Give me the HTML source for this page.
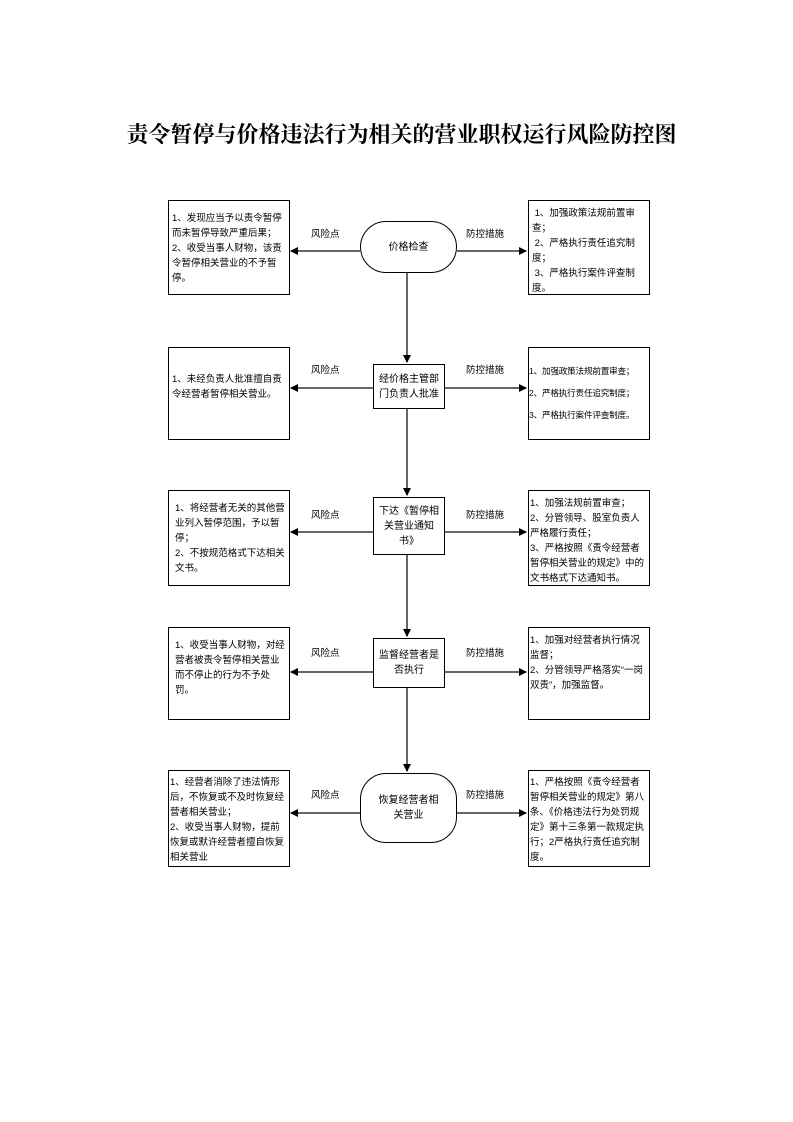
<!DOCTYPE html>
<html><head><meta charset="utf-8"><style>
body{margin:0;width:793px;height:1122px;background:#fff;position:relative;font-family:"Liberation Sans","Noto Sans CJK SC",sans-serif;overflow:hidden}
.t{position:absolute;left:0;width:793px;top:118px;text-align:center;font:bold 22px "Liberation Serif","Noto Serif CJK SC",serif;color:#000;padding-left:10px;box-sizing:border-box}
.b{position:absolute;border:1px solid #000;box-sizing:border-box;font-size:9.5px;line-height:15px;padding:10px 2px 0 3px;color:#000;background:#fff}
.L{left:168px;width:122px}.R{left:528px;width:122px}
.p{position:absolute;border:1px solid #000;box-sizing:border-box;font-size:10px;line-height:15px;text-align:center;display:flex;align-items:center;justify-content:center;background:#fff;left:373px;width:72px}
.term{border-radius:26px;left:360px;width:97px}
.lab{position:absolute;font-size:9.5px}
</style></head><body>
<div class="t">责令暂停与价格违法行为相关的营业职权运行风险防控图</div>
<svg width="793" height="1122" style="position:absolute;left:0;top:0">
<defs><marker id="a" markerWidth="8" markerHeight="8" refX="7" refY="4" orient="auto" markerUnits="userSpaceOnUse"><path d="M0,0L8,4L0,8z" fill="#000"/></marker></defs>
<g stroke="#666" stroke-width="2" fill="none">
<line x1="407" y1="272" x2="407" y2="362" marker-end="url(#a)"/>
<line x1="407" y1="408" x2="407" y2="495" marker-end="url(#a)"/>
<line x1="407" y1="555" x2="407" y2="636" marker-end="url(#a)"/>
<line x1="407" y1="688" x2="407" y2="771" marker-end="url(#a)"/>
<line x1="360" y1="251" x2="291" y2="251" marker-end="url(#a)"/><line x1="457" y1="251" x2="526" y2="251" marker-end="url(#a)"/>
<line x1="373" y1="388" x2="291" y2="388" marker-end="url(#a)"/><line x1="445" y1="388" x2="526" y2="388" marker-end="url(#a)"/>
<line x1="373" y1="532" x2="291" y2="532" marker-end="url(#a)"/><line x1="445" y1="532" x2="526" y2="532" marker-end="url(#a)"/>
<line x1="373" y1="672" x2="291" y2="672" marker-end="url(#a)"/><line x1="445" y1="672" x2="526" y2="672" marker-end="url(#a)"/>
<line x1="360" y1="813" x2="291" y2="813" marker-end="url(#a)"/><line x1="457" y1="813" x2="526" y2="813" marker-end="url(#a)"/>
</g></svg>
<div class="p term" style="top:221px;height:52px">价格检查</div>
<div class="p" style="top:364px;height:45px">经价格主管部<br>门负责人批准</div>
<div class="p" style="top:497px;height:58px">下达《暂停相<br>关营业通知<br>书》</div>
<div class="p" style="top:638px;height:50px">监督经营者是<br>否执行</div>
<div class="p term" style="top:773px;height:70px">恢复经营者相<br>关营业</div>
<div class="lab" style="left:311px;top:226px">风险点</div><div class="lab" style="left:466px;top:226px">防控措施</div>
<div class="lab" style="left:311px;top:362px">风险点</div><div class="lab" style="left:466px;top:362px">防控措施</div>
<div class="lab" style="left:311px;top:507px">风险点</div><div class="lab" style="left:466px;top:507px">防控措施</div>
<div class="lab" style="left:311px;top:645px">风险点</div><div class="lab" style="left:466px;top:645px">防控措施</div>
<div class="lab" style="left:311px;top:787px">风险点</div><div class="lab" style="left:466px;top:787px">防控措施</div>
<div class="b L" style="top:200px;height:95px">1、发现应当予以责令暂停而未暂停导致严重后果；2、收受当事人财物，该责令暂停相关营业的不予暂停。</div>
<div class="b R" style="top:200px;height:95px;padding-top:5px">&nbsp;1、加强政策法规前置审查；<br>&nbsp;2、严格执行责任追究制度；<br>&nbsp;3、严格执行案件评查制度。</div>
<div class="b L" style="top:347px;height:93px;padding-top:24px">1、未经负责人批准擅自责令经营者暂停相关营业。</div>
<div class="b R" style="top:347px;height:93px;padding:12px 0 0 0;line-height:22px;font-size:8.6px;white-space:nowrap;letter-spacing:-0.2px">1、加强政策法规前置审查；<br>2、严格执行责任追究制度；<br>3、严格执行案件评查制度。</div>
<div class="b L" style="top:490px;height:96px;padding-left:6px">1、将经营者无关的其他营业列入暂停范围，予以暂停；<br>2、不按规范格式下达相关文书。</div>
<div class="b R" style="top:490px;height:96px;padding:5px 0 0 1px">1、加强法规前置审查；<br>2、分管领导、股室负责人严格履行责任；<br>3、严格按照《责令经营者暂停相关营业的规定》中的文书格式下达通知书。</div>
<div class="b L" style="top:627px;height:93px;padding-left:6px">1、收受当事人财物，对经营者被责令暂停相关营业而不停止的行为不予处罚。</div>
<div class="b R" style="top:627px;height:93px;padding:5px 0 0 1px">1、加强对经营者执行情况监督；<br>2、分管领导严格落实“一岗双责”，加强监督。</div>
<div class="b L" style="top:770px;height:97px;padding:4px 0 0 1px">1、经营者消除了违法情形后，不恢复或不及时恢复经营者相关营业；<br>2、收受当事人财物，提前恢复或默许经营者擅自恢复相关营业</div>
<div class="b R" style="top:770px;height:97px;padding:4px 0 0 1px">1、严格按照《责令经营者暂停相关营业的规定》第八条、《价格违法行为处罚规定》第十三条第一款规定执行；2严格执行责任追究制度。</div>
</body></html>
